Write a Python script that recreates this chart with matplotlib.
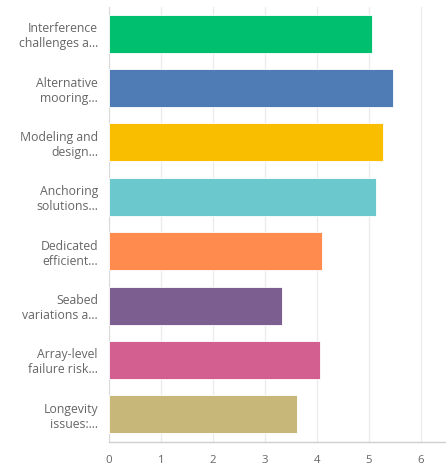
import matplotlib
matplotlib.use("Agg")
import matplotlib.pyplot as plt

# survey answers, averaged score per option
labels = [
    "Interference\nchallenges a...",
    "Alternative\nmooring...",
    "Modeling and\ndesign...",
    "Anchoring\nsolutions...",
    "Dedicated\nefficient...",
    "Seabed\nvariations a...",
    "Array-level\nfailure risk...",
    "Longevity\nissues:...",
]
scores = [5.05, 5.47, 5.26, 5.13, 4.09, 3.32, 4.06, 3.61]
colors = ["#00BF6F", "#507CB6", "#F9BE00", "#6BC8CD",
          "#FF8B4F", "#7D5E90", "#D25F90", "#C7B879"]
xticks = [0, 1, 2, 3, 4, 5, 6]

plt.rcParams['font.family'] = ['Open Sans', 'DejaVu Sans']

fig = plt.figure(figsize=(4.46, 4.71), dpi=100)
ax = fig.add_axes([109 / 446, 1 - 441.5 / 471, 337 / 446, 435 / 471])

pos = list(range(len(labels)))
ax.barh(pos, scores, height=0.70, color=colors, edgecolor="white",
        linewidth=0.6, zorder=3)

ax.set_ylim(len(labels) - 0.5, -0.5)
ax.set_xlim(0, 6.48)
ax.set_xticks(xticks)
ax.set_yticks(pos)
ax.set_yticklabels(labels, fontsize=8.8, color="#666666", linespacing=1.2)
ax.tick_params(axis="y", length=0, pad=8)
ax.tick_params(axis="x", length=0, pad=10, labelsize=8.2, labelcolor="#666666")

ax.grid(axis="x", color="#EBEBEB", linewidth=0.9, zorder=0)
for side in ["top", "right"]:
    ax.spines[side].set_visible(False)
ax.spines["left"].set_color("#D9D9D9")
ax.spines["bottom"].set_color("#CFCFCF")
ax.spines["bottom"].set_linewidth(1.0)

fig.savefig("out.png", dpi=100)
